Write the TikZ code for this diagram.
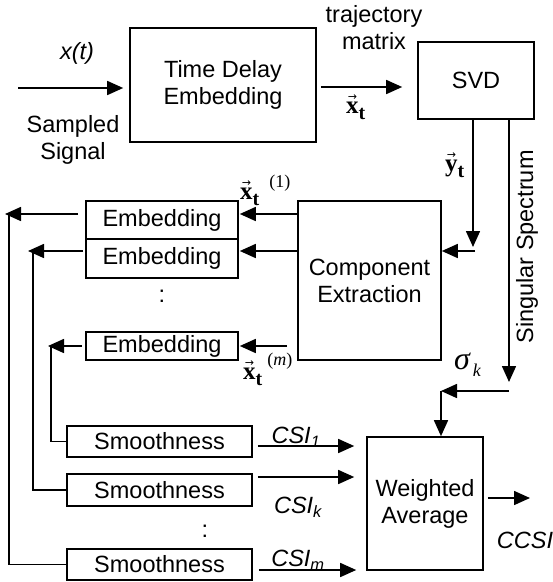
\documentclass[tikz,border=0pt]{standalone}
\usepackage[no-math]{fontspec}
\setmainfont{Liberation Sans}
\newfontfamily\tnr{Liberation Serif}
\newfontfamily\djv{DejaVu Sans}
\usetikzlibrary{arrows.meta}
\newcommand\vlab[1]{{\tnr\leavevmode\vbox{\offinterlineskip\halign{\hfil##\hfil\cr{\djv\fontsize{11}{11}\selectfont →}\cr\noalign{\kern1pt}{\fontsize{25}{25}\selectfont\bfseries #1}\cr}}\raisebox{-6pt}{\fontsize{20}{20}\selectfont\bfseries t}}}
\newcommand\suplab[3]{{\tnr\hspace{#1}\raisebox{#2}{\fontsize{18}{18}\selectfont #3}}}
\begin{document}
\begin{tikzpicture}[x=1pt,y=-1pt,
  txt/.style={font=\fontsize{23.5}{27}\selectfont, align=center, inner sep=0pt},
  blk/.style={txt, draw, line width=1.6pt},
  arr/.style={line width=1.6pt, -{Triangle[length=16pt,width=14pt]}},
  ln/.style={line width=1.6pt},
  mth/.style={inner sep=0pt}
]
\useasboundingbox (0,0) rectangle (553,582);

% blocks
\node[blk, minimum width=186pt, minimum height=114pt] (tde) at (223,85) {Time Delay\\Embedding};
\node[blk, minimum width=116pt, minimum height=77pt] (svd) at (476,80.5) {SVD};
\node[blk, minimum width=143pt, minimum height=159pt] (ce) at (369.5,280.5) {Component\\Extraction};
\node[blk, minimum width=152pt, minimum height=38pt] (e1) at (162,220) {Embedding};
\node[blk, minimum width=152pt, minimum height=39pt] (e2) at (162,258.5) {Embedding};
\node[blk, minimum width=152pt, minimum height=28pt] (e3) at (162,346) {Embedding};
\node[blk, minimum width=185pt, minimum height=31pt] (s1) at (159.5,441.5) {Smoothness};
\node[blk, minimum width=185pt, minimum height=32pt] (s2) at (159.5,490) {Smoothness};
\node[blk, minimum width=185pt, minimum height=31pt] (s3) at (159.5,564.5) {Smoothness};
\node[blk, minimum width=116pt, minimum height=133pt] (wa) at (425,503.5) {Weighted\\Average};

% text labels
\node[txt] (xt) at (77,53) {\itshape x(t)};
\node[txt] (samp) at (73,140) {Sampled\\Signal};
\node[txt] (traj) at (374,28) {trajectory\\matrix};
\node[mth, anchor=base west] (vx) at (346,113) {\vlab{x}};
\node[mth, anchor=base west] (vy) at (445,171) {\vlab{y}};
\node[mth, anchor=base west] (vx1) at (240,199) {\vlab{x}\suplab{10pt}{12pt}{(1)}};
\node[mth, anchor=base west] (vxm) at (243,379) {\vlab{x}\suplab{5pt}{14pt}{(\textit{m})}};
\node[txt, rotate=90] (sing) at (527,247) {Singular Spectrum};
\node[font=\fontsize{32}{34}\selectfont, inner sep=0pt, anchor=base west] (sig) at (454,369) {\tnr\itshape σ\raisebox{-7pt}{\fontsize{18}{20}\selectfont\,k}};
\node[txt] (dot1) at (162,296) {:};
\node[txt] (dot2) at (205,531) {:};
\node[txt] (csi1) at (296,437) {\itshape CSI\textsubscript{1}};
\node[txt] (csik) at (298,507) {\itshape CSI\textsubscript{k}};
\node[txt] (csim) at (298,560) {\itshape CSI\textsubscript{m}};
\node[txt] (ccsi) at (525,540) {\itshape CCSI};

% coordinates
\coordinate (in) at (18,88);
\coordinate (ty) at (0,87);
\coordinate (yt) at (473,247);
\coordinate (yh) at (475,251);
\coordinate (ss) at (509,382);
\coordinate (sk) at (509,391);
\coordinate (skc) at (441,391);
\coordinate (r1) at (0,214);
\coordinate (r2) at (0,251);
\coordinate (r3) at (0,346);
\coordinate (f1) at (9,213);
\coordinate (f2) at (33,252);
\coordinate (f3) at (51,347);
\coordinate (c1) at (0,446);
\coordinate (c2) at (0,477);
\coordinate (c3) at (0,570);
\coordinate (out) at (530,498);

% connectors
\draw[arr, shorten >=6pt] (in) -- (in -| tde.west);
\draw[arr, shorten <=4pt, shorten >=15pt] (ty -| tde.east) -- (ty -| svd.west);
\draw[arr] (svd.south -| yt) -- (yt);
\draw[arr] (yh) -- (yh -| ce.east);
\draw[arr] (svd.south -| ss) -- (ss);
\draw[arr] (sk) -- (skc);
\draw[arr] (skc) -- (skc |- wa.north);

\draw[arr, shorten >=1pt] (r1 -| ce.west) -- (r1 -| e1.east);
\draw[arr, shorten >=1pt] (r2 -| ce.west) -- (r2 -| e2.east);
\draw[arr, shorten <=10pt, shorten >=1pt] (r3 -| ce.west) -- (r3 -| e3.east);

\draw[arr, shorten <=7pt, shorten >=-4pt] (r1 -| e1.west) -- (r1 -| f1);
\draw[arr, shorten <=2pt, shorten >=-5pt] (r2 -| e2.west) -- (r2 -| f2);
\draw[arr, shorten <=3pt, shorten >=-3pt] (r3 -| e3.west) -- (r3 -| f3);

\draw[ln] (f1) |- (s3.west);
\draw[ln] (f2) |- (s2.west);
\draw[ln] (f3) |- (s1.west);

\draw[arr, shorten <=5pt, shorten >=12pt] (c1 -| s1.east) -- (c1 -| wa.west);
\draw[arr, shorten <=5pt, shorten >=12pt] (c2 -| s2.east) -- (c2 -| wa.west);
\draw[arr, shorten <=6pt, shorten >=10pt] (c3 -| s3.east) -- (c3 -| wa.west);

\draw[arr, shorten <=4pt] (out -| wa.east) -- (out);
\end{tikzpicture}
\end{document}
